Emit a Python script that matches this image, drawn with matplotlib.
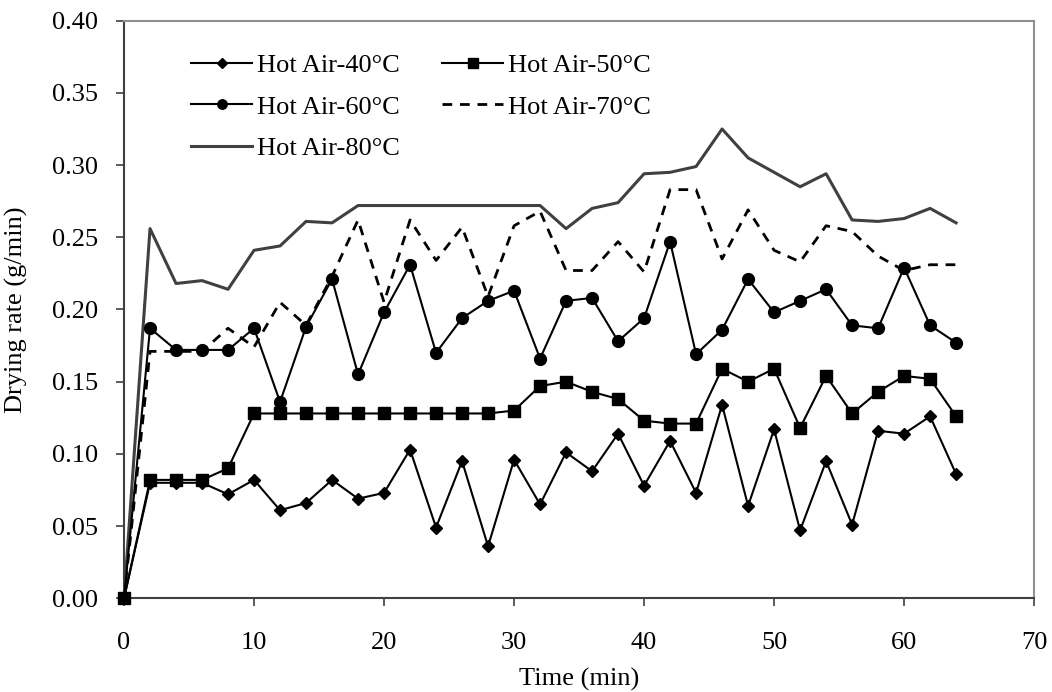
#!/usr/bin/env python3

import numpy as np
import matplotlib
matplotlib.use('Agg')
import matplotlib.pyplot as plt

# drying time (min), one reading every 2 min
time_min = list(range(0, 66, 2))

rate_40 = [0.000, 0.080, 0.080, 0.080, 0.072, 0.082, 0.061, 0.066, 0.082, 0.069,
           0.073, 0.103, 0.049, 0.095, 0.036, 0.096, 0.065, 0.101, 0.088, 0.114,
           0.078, 0.109, 0.073, 0.134, 0.064, 0.117, 0.047, 0.095, 0.051, 0.116,
           0.114, 0.126, 0.086]
rate_50 = [0.000, 0.082, 0.082, 0.082, 0.090, 0.128, 0.128, 0.128, 0.128, 0.128,
           0.128, 0.128, 0.128, 0.128, 0.128, 0.130, 0.147, 0.150, 0.143, 0.138,
           0.123, 0.121, 0.121, 0.159, 0.150, 0.159, 0.118, 0.154, 0.128, 0.143,
           0.154, 0.152, 0.126]
rate_60 = [0.000, 0.187, 0.172, 0.172, 0.172, 0.187, 0.136, 0.188, 0.221, 0.155,
           0.198, 0.231, 0.170, 0.194, 0.206, 0.213, 0.166, 0.206, 0.208, 0.178,
           0.194, 0.247, 0.169, 0.186, 0.221, 0.198, 0.206, 0.214, 0.189, 0.187,
           0.229, 0.189, 0.177]
rate_70 = [0.000, 0.171, 0.171, 0.171, 0.187, 0.174, 0.205, 0.189, 0.223, 0.262,
           0.205, 0.262, 0.234, 0.257, 0.209, 0.258, 0.268, 0.227, 0.227, 0.247,
           0.226, 0.283, 0.283, 0.235, 0.269, 0.241, 0.233, 0.258, 0.254, 0.237,
           0.227, 0.231, 0.231]
rate_80 = [0.000, 0.256, 0.218, 0.220, 0.214, 0.241, 0.244, 0.261, 0.260, 0.272,
           0.272, 0.272, 0.272, 0.272, 0.272, 0.272, 0.272, 0.256, 0.270, 0.274,
           0.294, 0.295, 0.299, 0.325, 0.305, 0.295, 0.285, 0.294, 0.262, 0.261,
           0.263, 0.270, 0.260]

labels = ['Hot Air-40°C', 'Hot Air-50°C', 'Hot Air-60°C', 'Hot Air-70°C', 'Hot Air-80°C']

plt.rcParams['font.family'] = ['Liberation Serif', 'DejaVu Serif']
plt.rcParams['font.size'] = 19

fig = plt.figure(figsize=(10.52, 6.92), dpi=100)
ax = fig.add_axes([0.1179, 0.1354, 0.8651, 0.8347])

h40, = ax.plot(time_min, rate_40, color='black', lw=1.5, marker='D', ms=6.5, label=labels[0], clip_on=False, zorder=3)
h50, = ax.plot(time_min, rate_50, color='black', lw=1.5, marker='s', ms=8.5, label=labels[1], clip_on=False, zorder=3)
h60, = ax.plot(time_min, rate_60, color='black', lw=1.5, marker='o', ms=8.5, label=labels[2], clip_on=False, zorder=3)
h70, = ax.plot(time_min, rate_70, color='black', lw=2, dashes=(3.5, 2.8), label=labels[3], clip_on=False)
h80, = ax.plot(time_min, rate_80, color='#404040', lw=2.2, label=labels[4], clip_on=False)

ax.set_xlim(0, 70)
ax.set_ylim(0, 0.40)
ax.set_xticks(np.arange(0, 71, 10))
ax.set_yticks(np.arange(0, 0.41, 0.05))
ax.yaxis.set_major_formatter(matplotlib.ticker.FormatStrFormatter('%.2f'))
ax.tick_params(direction='out', length=6, width=1.2, color='#404040', labelsize=19)
ax.tick_params(axis='x', pad=18)
ax.tick_params(axis='y', pad=12.5)

for side in ('left', 'bottom'):
	ax.spines[side].set_color('#404040')
	ax.spines[side].set_linewidth(1.5)
for side in ('top', 'right'):
	ax.spines[side].set_color('#909090')
	ax.spines[side].set_linewidth(1.5)

ax.set_xlabel('Time (min)')
ax.set_ylabel('Drying rate (g/min)')
ax.xaxis.set_label_coords(0.5, -0.121)
ax.yaxis.set_label_coords(-0.105, 0.5)

# column-first fill: reorder so rows read 40/50, 60/70, 80
leg = ax.legend([h40, h60, h80, h50, h70],
	[labels[0], labels[2], labels[4], labels[1], labels[3]],
	ncol=2, frameon=False, loc='upper left', bbox_to_anchor=(0.074, 0.943),
	borderaxespad=0, borderpad=0, handlelength=2.3, handletextpad=0.2,
	columnspacing=1.6, labelspacing=0.68, markerscale=0.8, fontsize=19)

fig.savefig('out.png', dpi=100)
